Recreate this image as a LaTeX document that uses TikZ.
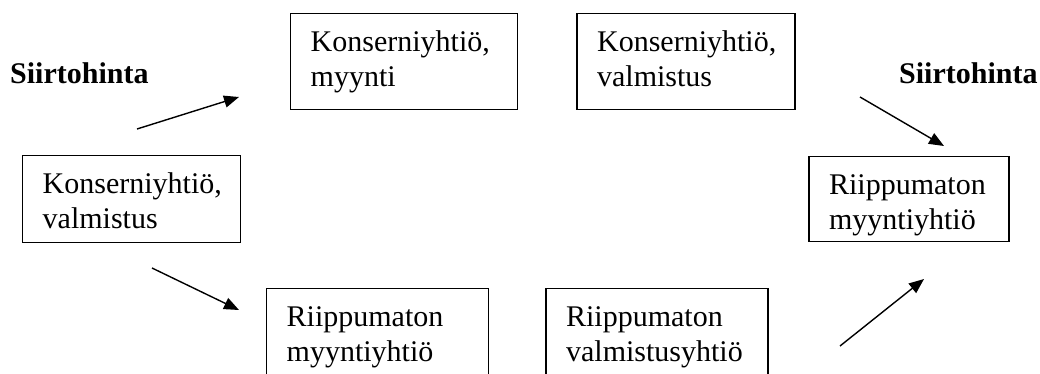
\documentclass[tikz,border=0pt]{standalone}
\usepackage{fontspec}
\setmainfont{Liberation Serif}
\usepackage{tikz}
\usetikzlibrary{arrows.meta,positioning}
\newcommand{\firmfont}{\fontsize{30pt}{34.5pt}\selectfont}
\tikzstyle{firm} = [draw, line width=1.4pt, inner xsep=20pt, inner ysep=0pt, align=left, text height=38pt, font=\firmfont]
\tikzstyle{price} = [font=\fontsize{30pt}{34pt}\selectfont\bfseries, inner sep=0pt]
\tikzstyle{line} = [draw, line width=1.4pt, -{Triangle[length=15pt, width=12pt]}]

\begin{document}
\begin{tikzpicture}[x=1pt, y=1pt]
    \clip (0,0) rectangle (1040,373);
    % top row
    \node [firm, anchor=north west, text width=187pt, text depth=58pt] (ksales) at (290,360) {Konserniyhtiö,\\myynti};
    \node [firm, right=58pt of ksales, text width=178pt, text depth=58pt] (kmfgtop) {Konserniyhtiö,\\valmistus};
    % middle row
    \node [firm, anchor=north west, text width=178pt, text depth=49pt] (kmfg) at (22,218) {Konserniyhtiö,\\valmistus};
    \node [firm, right=567pt of kmfg, text width=160pt, text depth=47pt] (isalesR) {Riippumaton\\myyntiyhtiö};
    % bottom row
    \node [firm, anchor=north west, text width=182pt, text depth=60pt] (isales) at (266,85) {Riippumaton\\myyntiyhtiö};
    \node [firm, right=56pt of isales, text width=182pt, text depth=60pt] (imfg) {Riippumaton\\valmistusyhtiö};

    \node [price, anchor=base west] (priceL) at (10,290) {Siirtohinta};
    \node [price, anchor=base west] (priceR) at (899,290) {Siirtohinta};

    \coordinate (a1s) at (137,244);
    \coordinate (a1e) at (239,276);
    \coordinate (a2s) at (152,105);
    \coordinate (a2e) at (239,63);
    \coordinate (a3s) at (860,276);
    \coordinate (a3e) at (944,227);
    \coordinate (a4s) at (840,27);
    \coordinate (a4e) at (924,94);

    \path [line] (a1s) -- (a1e);
    \path [line] (a2s) -- (a2e);
    \path [line] (a3s) -- (a3e);
    \path [line] (a4s) -- (a4e);
\end{tikzpicture}
\end{document}
